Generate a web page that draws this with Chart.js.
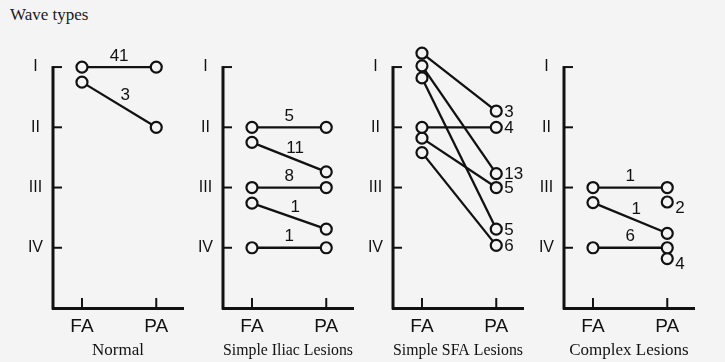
<!DOCTYPE html>
<html>
<head>
<meta charset="utf-8">
<script src="https://cdn.jsdelivr.net/npm/chart.js@4.4.1/dist/chart.umd.min.js"></script>
<style>
  body { margin: 0; background: #f4f4f4; }
  #wrap { position: relative; width: 725px; height: 362px; overflow: hidden; }
  #heading { position: absolute; left: 10px; top: 5px; font: 17px "Liberation Serif", serif; color: #1a1a1a; }
  canvas { position: absolute; top: 0; }
</style>
</head>
<body>
<div id="wrap">
  <div id="heading">Wave types</div>
  <canvas id="c1" width="175" height="362" style="left:23px"></canvas>
  <canvas id="c2" width="175" height="362" style="left:193px"></canvas>
  <canvas id="c3" width="175" height="362" style="left:363px"></canvas>
  <canvas id="c4" width="175" height="362" style="left:534px"></canvas>
</div>
<script>
// wave type levels (1 = I ... 4 = IV), FA and PA positions
const levels = ["I", "II", "III", "IV"];
const sites = ["FA", "PA"];

// Normal
const normalFA = [1, 1.25];
const normalPA = [1, 2];
const normalN = [41, 3];

// Simple iliac lesions
const iliacFA = [2, 2.25, 3, 3.26, 4];
const iliacPA = [2, 2.74, 3, 3.69, 4];
const iliacN = [5, 11, 8, 1, 1];

// Simple SFA lesions
const sfaFA = [0.77, 0.98, 1.18, 2, 2.18, 2.42];
const sfaPA = [1.73, 2.77, 3.69, 2, 3, 3.96];
const sfaN = [3, 13, 5, 4, 5, 6];

// Complex lesions (null = no FA point)
const complexFA = [3, 3.25, 4, null, null];
const complexPA = [3, 3.76, 4, 3.24, 4.18];
const complexN = [1, 1, 6, 2, 4];

const ink = "#111";
const bg = "#f4f4f4";

// y axis line starts at level I, ticks point into the plot
const inwardTicks = {
  id: "inwardTicks",
  afterDraw(chart) {
    const { ctx, chartArea, scales } = chart;
    ctx.save();
    ctx.strokeStyle = ink;
    ctx.lineWidth = 3;
    ctx.beginPath();
    ctx.moveTo(chartArea.left, scales.y.getPixelForValue(1) - 1);
    ctx.lineTo(chartArea.left, chartArea.bottom + 1.5);
    ctx.stroke();
    ctx.lineWidth = 2;
    scales.y.ticks.forEach(t => {
      const py = scales.y.getPixelForValue(t.value);
      ctx.beginPath();
      ctx.moveTo(chartArea.left, py);
      ctx.lineTo(chartArea.left + 9, py);
      ctx.stroke();
    });
    scales.x.ticks.forEach(t => {
      const px = scales.x.getPixelForValue(t.value);
      ctx.beginPath();
      ctx.moveTo(px, chartArea.bottom);
      ctx.lineTo(px, chartArea.bottom - 10);
      ctx.stroke();
    });
    ctx.restore();
  }
};

const countLabels = {
  id: "countLabels",
  afterDatasetsDraw(chart) {
    const { ctx } = chart;
    ctx.save();
    ctx.fillStyle = ink;
    ctx.font = "17px 'Liberation Sans', Arial, sans-serif";
    ctx.textBaseline = "middle";
    chart.data.datasets.forEach((ds, i) => {
      const pts = chart.getDatasetMeta(i).data;
      const last = pts[pts.length - 1];
      if (ds.labelAt === "end" || pts.length === 1) {
        ctx.textAlign = "left";
        ctx.fillText(ds.count, last.x + 8, last.y + (pts.length === 1 ? 6 : 1));
      } else {
        const a = pts[0];
        const mx = (a.x + last.x) / 2, my = (a.y + last.y) / 2;
        ctx.textAlign = "center";
        if (Math.abs(a.y - last.y) < 1) ctx.fillText(ds.count, mx, my - 11);
        else ctx.fillText(ds.count, mx + 6, my - 9);
      }
    });
    ctx.restore();
  }
};

function drawPanel(id, faVals, paVals, counts, title, labelAt) {
  const datasets = paVals.map((pa, i) => {
    const data = [];
    if (faVals[i] !== null) data.push({ x: 0, y: faVals[i] });
    data.push({ x: 1, y: pa });
    return {
      data,
      count: counts[i],
      labelAt,
      showLine: true,
      borderColor: ink,
      borderWidth: 2.3,
      pointRadius: 5.5,
      pointBorderWidth: 2.2,
      pointBorderColor: ink,
      pointBackgroundColor: bg,
      clip: false
    };
  });

  return new Chart(document.getElementById(id), {
    type: "scatter",
    data: { datasets },
    options: {
      responsive: false,
      animation: false,
      layout: { padding: { top: 49, right: 15, left: 0, bottom: 0 } },
      plugins: { legend: { display: false }, tooltip: { enabled: false } },
      scales: {
        x: {
          type: "linear",
          min: -0.39,
          max: 1.36,
          afterBuildTicks: s => { s.ticks = [{ value: 0 }, { value: 1 }]; },
          afterFit: s => { s.height = 54; },
          grid: { drawOnChartArea: false, drawTicks: false },
          border: { color: ink, width: 3 },
          ticks: {
            padding: 7,
            color: ink,
            font: { family: "'Liberation Sans', Arial, sans-serif", size: 19 },
            callback: v => sites[v]
          },
          title: {
            display: true,
            text: title,
            color: ink,
            padding: { top: 0, bottom: 1 },
            font: { family: "'Liberation Serif', serif", size: 17 }
          }
        },
        y: {
          type: "linear",
          reverse: true,
          min: 0.7,
          max: 5,
          afterBuildTicks: s => { s.ticks = [1, 2, 3, 4].map(v => ({ value: v })); },
          afterFit: s => { s.width = 30; },
          grid: { drawOnChartArea: false, drawTicks: false },
          border: { display: false },
          ticks: {
            padding: 10,
            crossAlign: "center",
            color: ink,
            font: { family: "'Liberation Sans', Arial, sans-serif", size: 16 },
            callback: v => levels[v - 1]
          }
        }
      }
    },
    plugins: [inwardTicks, countLabels]
  });
}

drawPanel("c1", normalFA, normalPA, normalN, "Normal", "mid");
drawPanel("c2", iliacFA, iliacPA, iliacN, "Simple Iliac Lesions", "mid");
drawPanel("c3", sfaFA, sfaPA, sfaN, "Simple SFA Lesions", "end");
drawPanel("c4", complexFA, complexPA, complexN, "Complex Lesions", "mid");
</script>
</body>
</html>
